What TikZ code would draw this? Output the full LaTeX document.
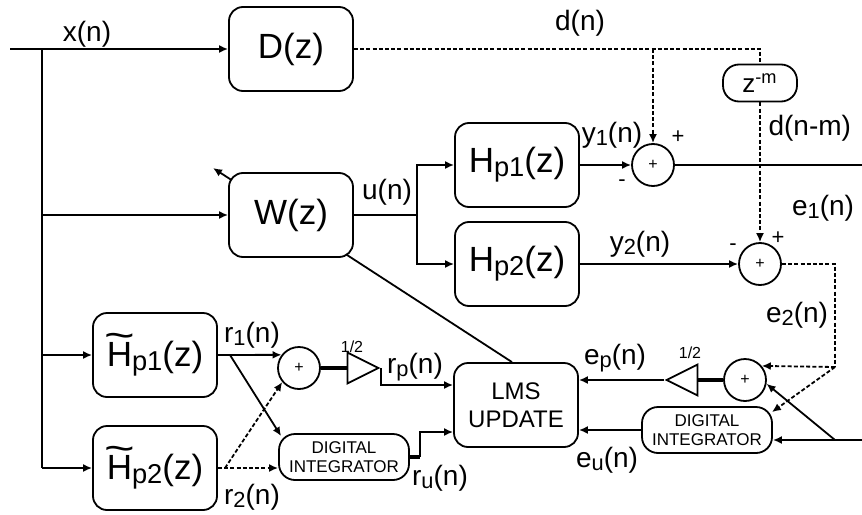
\documentclass[tikz,border=0pt]{standalone}
\usepackage{fontspec}
\setmainfont{Liberation Sans}
\usepackage{tikz}
\usetikzlibrary{backgrounds}
\usetikzlibrary{positioning, calc, arrows.meta, shapes.geometric}

\newcommand{\smsub}[1]{\raisebox{-0.12em}{\scalebox{0.78}{#1}}}
\newcommand{\tildeH}{\rlap{\hbox to 0.72em{\hss\raisebox{0.52em}{\scalebox{1.5}[1.1]{\textasciitilde}}\hss}}H}

\tikzset{
  blk/.style={draw, fill=white, rounded corners=7pt, minimum width=62pt, minimum height=42pt, inner sep=0pt, font=\fontsize{17.5}{20}\selectfont},
  lms/.style={blk, align=center, font=\fontsize{12}{14}\selectfont},
  integ/.style={draw, fill=white, rounded corners=8pt, minimum width=65pt, minimum height=23pt, inner sep=0pt, align=center, font=\fontsize{8.5}{9.5}\selectfont},
  delay/.style={draw, fill=white, rounded corners=8pt, minimum width=37pt, minimum height=18.5pt, inner sep=0pt, font=\fontsize{13}{14}\selectfont},
  adder/.style={draw, fill=white, circle, minimum size=21pt, inner sep=0pt, font=\fontsize{8}{8}\selectfont},
  gain/.style={draw, fill=white, isosceles triangle, isosceles triangle stretches, minimum width=15.5pt, minimum height=15.5pt, inner sep=0pt},
  sig/.style={font=\fontsize{14}{16}\selectfont},
  sgn/.style={font=\fontsize{11}{12}\selectfont},
  half/.style={font=\fontsize{8}{9}\selectfont},
  dsh/.style={dash pattern=on 2pt off 1.1pt},
  thk/.style={line width=1.6pt}
}

\begin{document}
\begin{tikzpicture}[x=0.5pt, y=-0.5pt, line width=0.9pt, >={Latex[length=4.5pt, width=4pt]}]
  \useasboundingbox (0,0) rectangle (862,514);

  % BLOCKS

  \node[blk] (D) at (291,49) {D(z)};
  \node[blk] (W) at (291,215) {W(z)};
  \node[blk] (Hp1) at (517,165) {H\smsub{p1}(z)};
  \node[blk] (Hp2) at (517,264) {H\smsub{p2}(z)};
  \node[blk] (Ht1) at (155,355) {\tildeH\smsub{p1}(z)};
  \node[blk] (Ht2) at (155,468) {\tildeH\smsub{p2}(z)};
  \node[lms] (LMS) at (516,405) {LMS\\UPDATE};
  \node[delay] (zm) at (760,83) {z\textsuperscript{-m}};
  \node[integ] (DI1) at (344,457) {DIGITAL\\INTEGRATOR};
  \node[integ] (DI2) at (707,430) {DIGITAL\\INTEGRATOR};

  \node[adder] (sum1) at (653,165) {+};
  \node[adder] (sum2) at (760,264) {+};
  \node[adder] (sum3) at (745,380) {+};
  \node[adder] (sum4) at (299,368) {+};

  \node[gain] (g1) at (357,368) {};
  \node[gain, shape border rotate=180] (g2) at (688,380) {};

  % JUNCTIONS

  \coordinate (in) at (10,49);
  \coordinate (j0) at (42,49);
  \coordinate (jW) at (42,215);
  \coordinate (jH1) at (42,355);
  \coordinate (jH2) at (42,468);
  \coordinate (ju) at (417,215);
  \coordinate (jd1) at (653,49);
  \coordinate (jd2) at (760,49);
  \coordinate (out1) at (862,165);
  \coordinate (je) at (835,367);
  \coordinate (in2) at (862,440);
  \coordinate (je3) at (835,440);
  \coordinate (jr1) at (230,355);
  \coordinate (jr2) at (225,468);
  \coordinate (wadapt) at (213,168);

  % ARCS

  \begin{scope}[on background layer]
    \draw[line width=0.9pt, ->] ($(LMS.north)+(-4,0)$) -- (wadapt);
  \end{scope}

  \draw[->] (in) -- (D);
  \draw (j0) -- (jH2);
  \draw[->] (jW) -- (W);
  \draw[->] (jH1) -- (Ht1);
  \draw[->] (jH2) -- (Ht2);

  \draw (W) -- (ju);
  \draw[->] (ju) |- (Hp1);
  \draw[->] (ju) |- (Hp2);

  \draw[dsh] (D) -- (jd2) -- (zm);
  \draw[dsh, ->] (jd1) -- (sum1);
  \draw[dsh, ->] (zm) -- (sum2);

  \draw[->] (Hp1) -- (sum1);
  \draw (sum1) -- (out1);
  \draw[->] (Hp2) -- (sum2);

  \draw[dsh] (sum2) -| (je);
  \draw[dsh, ->] (je) -- (sum3.40);
  \draw[dsh, ->] (je) -- ($(DI2.north east)+(-1,6)$);
  \draw (in2) -- (je3);
  \draw[->] (je3) -- (je3 -| DI2.east);
  \draw[->] (je3) -- (sum3.-10);

  \draw[thk] (sum3) -- (g2);
  \draw[->] (g2.west) -- (g2.west -| LMS.east);
  \draw[->] (DI2) -- (DI2 -| LMS.east);

  \draw[->] (Ht1.east) -- (sum4.143);
  \draw[->] (jr1) -- ($(DI1.north west)+(3,3)$);
  \draw[dsh, ->] (Ht2.east) -- (Ht2.east -| DI1.west);
  \draw[dsh, ->] (jr2) -- (sum4.-140);

  \draw[thk] (sum4) -- (g1);
  \draw[->] (g1.east) |- ($(LMS.west)+(0,-20)$);
  \draw[thk] (DI1.east) -- ++(10,0) coordinate (jru);
  \draw[->] (jru) |- ($(LMS.west)+(0,27)$);

  % LABELS

  \node[sig] (xLabel) at (87,34) {x(n)};
  \node[sig] (dLabel) at (580,23) {d(n)};
  \node[sig] (uLabel) at (387,192) {u(n)};
  \node[sig] (y1Label) at (612,135) {y\smsub{1}(n)};
  \node[sig, anchor=west] (dmLabel) at (761,128) {d(n-m)};
  \node[sig] (y2Label) at (640,244) {y\smsub{2}(n)};
  \node[sig] (e1Label) at (823,208) {e\smsub{1}(n)};
  \node[sig] (e2Label) at (797,315) {e\smsub{2}(n)};
  \node[sig] (epLabel) at (615,358) {e\smsub{p}(n)};
  \node[sig] (euLabel) at (607,460) {e\smsub{u}(n)};
  \node[sig] (r1Label) at (252,335) {r\smsub{1}(n)};
  \node[sig] (r2Label) at (252,497) {r\smsub{2}(n)};
  \node[sig] (rpLabel) at (415,367) {r\smsub{p}(n)};
  \node[sig] (ruLabel) at (440,478) {r\smsub{u}(n)};

  \node[half] (half1) at (352,347) {1/2};
  \node[half] (half2) at (690,353) {1/2};

  \node[sgn] (plus1) at (678,137) {+};
  \node[sgn] (minus1) at (622,183) {-};
  \node[sgn] (plus2) at (778,238) {+};
  \node[sgn] (minus2) at (733,247) {-};

\end{tikzpicture}
\end{document}
